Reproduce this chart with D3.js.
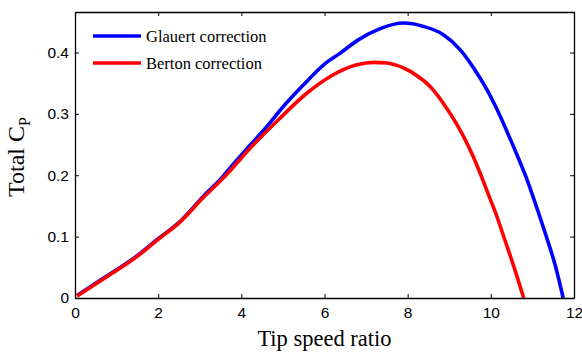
<!DOCTYPE html>
<html>
<head>
<meta charset="utf-8">
<script src="https://cdn.jsdelivr.net/npm/d3@7"></script>
<style>
  html, body { margin: 0; padding: 0; background: #fff; }
  svg { display: block; }
</style>
</head>
<body>
<svg id="chart" width="582" height="355"></svg>
<script>
// Power coefficient vs tip speed ratio for two tip-loss corrections
const glauertTSR = [0.05, 0.68, 1.48, 1.97, 2.53, 3.09, 3.57, 3.73, 4.21, 4.61, 5.01, 5.49, 5.98, 6.38, 6.82, 7.34, 7.90, 8.38, 8.86, 9.27, 9.59, 9.91, 10.15, 10.39, 10.63, 10.87, 11.11, 11.35, 11.55, 11.74];
const glauertCp  = [0.004, 0.032, 0.068, 0.095, 0.125, 0.166, 0.199, 0.212, 0.249, 0.279, 0.312, 0.347, 0.380, 0.399, 0.421, 0.439, 0.448, 0.4425, 0.429, 0.404, 0.3745, 0.339, 0.307, 0.271, 0.233, 0.193, 0.146, 0.097, 0.053, 0.0];

const bertonTSR = [0.05, 0.68, 1.48, 1.97, 2.53, 3.09, 3.57, 3.73, 4.21, 4.93, 5.58, 6.14, 6.78, 7.18, 7.50, 7.74, 8.02, 8.14, 8.54, 8.86, 9.19, 9.47, 9.71, 9.91, 10.15, 10.35, 10.55, 10.79];
const bertonCp  = [0.003, 0.031, 0.067, 0.094, 0.124, 0.164, 0.196, 0.2075, 0.244, 0.293, 0.334, 0.361, 0.380, 0.384, 0.383, 0.379, 0.371, 0.366, 0.3445, 0.317, 0.282, 0.246, 0.209, 0.174, 0.132, 0.092, 0.052, 0.0];

const xTicks = [0, 2, 4, 6, 8, 10, 12];
const yTicks = [0, 0.1, 0.2, 0.3, 0.4];

const seriesNames  = ["Glauert correction", "Berton correction"];
const seriesColors = ["#0000ff", "#ff0000"];

const margin = { left: 75, right: 8, top: 12, bottom: 57 };
const W = 582, H = 355;

const svg = d3.select("#chart");
const x = d3.scaleLinear().domain([0, 12]).range([margin.left, W - margin.right]);
const y = d3.scaleLinear().domain([0, 0.466]).range([H - margin.bottom, margin.top]);

const plotL = x(0), plotR = x(12), plotT = y(0.466), plotB = y(0);

// Curves
const line = d3.line().x(d => x(d[0])).y(d => y(d[1])).curve(d3.curveMonotoneX);
const series = [
  d3.zip(glauertTSR, glauertCp),
  d3.zip(bertonTSR, bertonCp)
];
series.forEach((pts, i) => {
  svg.append("path")
    .datum(pts)
    .attr("d", line)
    .attr("fill", "none")
    .attr("stroke", seriesColors[i])
    .attr("stroke-width", 3.6)
    .attr("stroke-linejoin", "round");
});

// Axes with inward ticks, mirrored on top and right
const tickFont = "Liberation Sans, Arial, sans-serif";
const xAxis = d3.axisBottom(x).tickValues(xTicks).tickFormat(d3.format("d")).tickSizeInner(-4).tickSizeOuter(0).tickPadding(9);
const yAxis = d3.axisLeft(y).tickValues(yTicks).tickFormat(d => d === 0 ? "0" : d3.format(".1f")(d)).tickSizeInner(-4).tickSizeOuter(0).tickPadding(6);

const gx = svg.append("g").attr("transform", `translate(0,${plotB})`).call(xAxis);
const gy = svg.append("g").attr("transform", `translate(${plotL},0)`).call(yAxis);
const gxTop = svg.append("g").attr("transform", `translate(0,${plotT})`)
  .call(d3.axisTop(x).tickValues(xTicks).tickSizeInner(-4).tickSizeOuter(0).tickFormat(""));
const gyRight = svg.append("g").attr("transform", `translate(${plotR},0)`)
  .call(d3.axisRight(y).tickValues(yTicks).tickSizeInner(-4).tickSizeOuter(0).tickFormat(""));

[gx, gy, gxTop, gyRight].forEach(g => {
  g.selectAll(".domain").attr("stroke", "#000").attr("stroke-width", 1.3);
  g.selectAll(".tick line").attr("stroke", "#000").attr("stroke-width", 1);
  g.selectAll("text").attr("font-family", tickFont).attr("font-size", 15.5).attr("fill", "#000");
});

// Axis titles
const titleFont = "Liberation Serif, Times New Roman, serif";
svg.append("text")
  .attr("x", (plotL + plotR) / 2)
  .attr("y", 346)
  .attr("text-anchor", "middle")
  .attr("font-family", titleFont)
  .attr("font-size", 22.5)
  .text("Tip speed ratio");

const yTitle = svg.append("text")
  .attr("transform", `translate(24,157) rotate(-90)`)
  .attr("text-anchor", "middle")
  .attr("font-family", titleFont)
  .attr("font-size", 24);
yTitle.append("tspan").text("Total C");
yTitle.append("tspan").attr("font-size", 16).attr("dy", 6).text("P");

// Legend
const legend = svg.append("g").attr("transform", "translate(93,36)");
seriesNames.forEach((name, i) => {
  const row = legend.append("g").attr("transform", `translate(0,${i * 27})`);
  row.append("line")
    .attr("x1", 0).attr("x2", 48)
    .attr("stroke", seriesColors[i]).attr("stroke-width", 3.6);
  row.append("text")
    .attr("x", 53).attr("y", 5.5)
    .attr("font-family", titleFont)
    .attr("font-size", 16.5)
    .text(name);
});
</script>
</body>
</html>
